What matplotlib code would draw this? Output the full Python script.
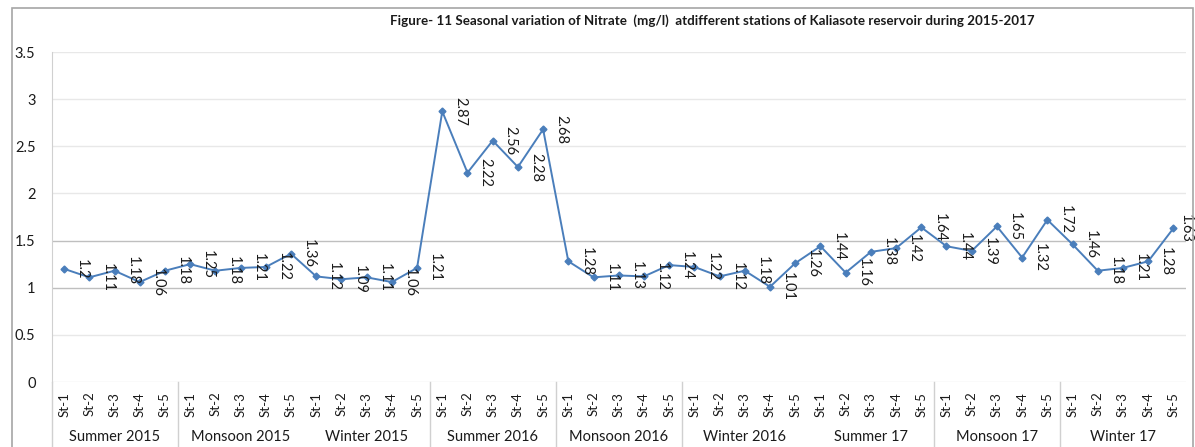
import matplotlib
matplotlib.use('Agg')
import matplotlib.pyplot as plt
from matplotlib.patches import Rectangle
import matplotlib.transforms as mtransforms

# ── COLORS ───────────────────────────────────────────────────
BLUE   = '#4A7EBB'
GRID_L = '#E8E8E8'
GRID_D = '#BFBFBF'
AXIS   = '#D0D0D0'
BORDER = '#A6A6A6'
TEXT   = '#1A1A1A'

plt.rcParams['font.family'] = ['Lato', 'DejaVu Sans']

# ── DATA ─────────────────────────────────────────────────────
seasons = ['Summer 2015', 'Monsoon 2015', 'Winter 2015', 'Summer 2016',
           'Monsoon 2016', 'Winter 2016', 'Summer 17', 'Monsoon 17', 'Winter 17']
stations = ['St-1', 'St-2', 'St-3', 'St-4', 'St-5']

summer_2015  = [1.20, 1.11, 1.18, 1.06, 1.18]
monsoon_2015 = [1.25, 1.18, 1.21, 1.22, 1.36]
winter_2015  = [1.12, 1.09, 1.11, 1.06, 1.21]
summer_2016  = [2.87, 2.22, 2.56, 2.28, 2.68]
monsoon_2016 = [1.28, 1.11, 1.13, 1.12, 1.24]
winter_2016  = [1.22, 1.12, 1.18, 1.01, 1.26]
summer_17    = [1.44, 1.16, 1.38, 1.42, 1.64]
monsoon_17   = [1.44, 1.39, 1.65, 1.32, 1.72]
winter_17    = [1.46, 1.18, 1.21, 1.28, 1.63]

labels_txt = ['1.2', '1.11', '1.18', '1.06', '1.18',
              '1.25', '1.18', '1.21', '1.22', '1.36',
              '1.12', '1.09', '1.11', '1.06', '1.21',
              '2.87', '2.22', '2.56', '2.28', '2.68',
              '1.28', '1.11', '1.13', '1.12', '1.24',
              '1.22', '1.12', '1.18', '1.01', '1.26',
              '1.44', '1.16', '1.38', '1.42', '1.64',
              '1.44', '1.39', '1.65', '1.32', '1.72',
              '1.46', '1.18', '1.21', '1.28', '1.63']

# group separators shown in the category band (after these season indices)
separator_after = [0, 2, 3, 4, 6, 7]

values = (summer_2015 + monsoon_2015 + winter_2015 + summer_2016 +
          monsoon_2016 + winter_2016 + summer_17 + monsoon_17 + winter_17)
x = list(range(len(values)))
tick_labels = stations * len(seasons)

# ── FIGURE ───────────────────────────────────────────────────
fig = plt.figure(figsize=(11.95, 4.47), dpi=100)
ax = fig.add_axes([51.5 / 1195, 65 / 447, (1186 - 51.5) / 1195, (382 - 52) / 447])

# outer chart border
fig.patches.append(Rectangle((12 / 1195, -0.02), (1193 - 12) / 1195, 1 - 8 / 447 + 0.02,
                             transform=fig.transFigure, fill=False,
                             edgecolor=BORDER, linewidth=1.2))

ax.set_xlim(-0.5, len(values) - 0.5)
ax.set_ylim(0, 3.5)
yt = [0, 0.5, 1, 1.5, 2, 2.5, 3, 3.5]
ax.set_yticks(yt)
ax.set_yticklabels(['0', '0.5', '1', '1.5', '2', '2.5', '3', '3.5'])
for v in yt:
    ax.axhline(v, color=GRID_D if v in (1, 1.5) else GRID_L,
               linewidth=1.0, zorder=1)

for s in ['top', 'right', 'bottom']:
    ax.spines[s].set_visible(False)
ax.spines['left'].set_color(AXIS)
ax.tick_params(axis='y', length=0, pad=11.5, labelsize=10.5, colors=TEXT)
ax.tick_params(axis='x', length=0, pad=7, labelsize=9.5, colors=TEXT)

ax.set_xticks(x)
ax.set_xticklabels(tick_labels, rotation=90)

# line series
ax.plot(x, values, color=BLUE, linewidth=1.4, marker='D', markersize=3.5,
        zorder=3, clip_on=False)

# data labels (last one squeezed against the right edge, as in Excel)
for xi, yi, lab in zip(x, values, labels_txt):
    dx = 5 if xi == x[-1] else 11
    ax.annotate(lab, xy=(xi, yi), xytext=(dx, 0), textcoords='offset pixels',
                rotation=-90, ha='left', va='center', fontsize=10.5,
                color=TEXT, zorder=4)

# category band: separators and season names
trans = mtransforms.blended_transform_factory(ax.transData, ax.transAxes)
band = -(447 - 382) / 330 - 0.02
ax.plot([-0.5, -0.5], [0, band], color=AXIS, linewidth=1.0,
        transform=trans, clip_on=False)
for gi in separator_after:
    xs = (gi + 1) * len(stations) - 0.5
    ax.plot([xs, xs], [0, band], color=AXIS, linewidth=1.0,
            transform=trans, clip_on=False)
for gi, name in enumerate(seasons):
    xc = gi * len(stations) + (len(stations) - 1) / 2
    ax.text(xc, -(437 - 382) / 330, name, transform=trans,
            ha='center', va='center', fontsize=10.5, color=TEXT)

fig.text(712 / 1195, 1 - 21 / 447,
         'Figure- 11 Seasonal variation of Nitrate  (mg/l)  atdifferent stations of Kaliasote reservoir during 2015-2017',
         ha='center', va='center', fontsize=9.6, fontweight='bold', color=TEXT)

fig.savefig('out.png', dpi=100, facecolor='white')
